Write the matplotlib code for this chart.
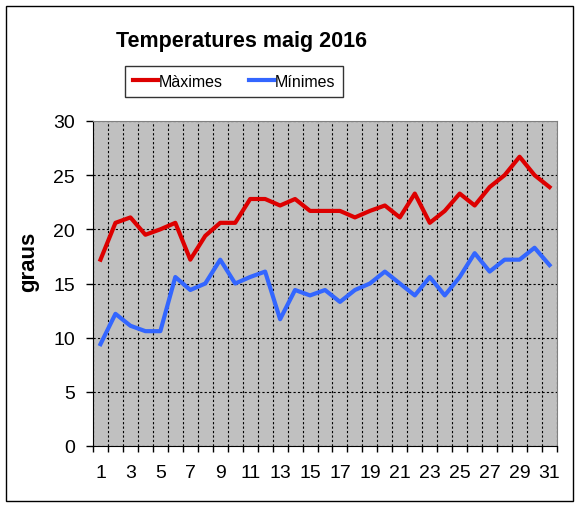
import matplotlib.pyplot as plt
import numpy as np
from matplotlib.patches import Rectangle

plt.rcParams['font.family'] = ['Liberation Sans', 'DejaVu Sans']

dies = list(range(1, 32))
maximes = [17.2, 20.6, 21.1, 19.5, 20.0, 20.6, 17.2, 19.4, 20.6, 20.6,
           22.8, 22.8, 22.2, 22.8, 21.7, 21.7, 21.7, 21.1, 21.7, 22.2,
           21.1, 23.3, 20.6, 21.7, 23.3, 22.2, 23.9, 25.0, 26.7, 25.0, 23.9]
minimes = [9.4, 12.2, 11.1, 10.6, 10.6, 15.6, 14.4, 15.0, 17.2, 15.0,
           15.6, 16.1, 11.7, 14.4, 13.9, 14.4, 13.3, 14.4, 15.0, 16.1,
           15.0, 13.9, 15.6, 13.9, 15.6, 17.8, 16.1, 17.2, 17.2, 18.3, 16.7]
etiquetes = [str(d) for d in dies if d % 2 == 1]

fig = plt.figure(figsize=(5.81, 5.10), dpi=100)
fig.patches.append(Rectangle((6 / 581, 8 / 510), 567 / 581, 495 / 510,
                             transform=fig.transFigure, fill=False,
                             edgecolor='black', linewidth=1))

ax = fig.add_axes([93 / 581, 63 / 510, 464 / 581, 325 / 510])
ax.set_facecolor('#C0C0C0')
ax.plot(dies, maximes, color='#DD0000', linewidth=3, label='Màximes')
ax.plot(dies, minimes, color='#3366FF', linewidth=3, label='Mínimes')

ax.set_xlim(0.5, 31.5)
ax.set_ylim(0, 30)
ax.set_yticks(np.arange(0, 31, 5))
ax.set_xticks([d for d in dies if d % 2 == 1])
ax.set_xticklabels(etiquetes)
ax.set_xticks(np.arange(0.5, 32, 1), minor=True)
ax.tick_params(axis='x', which='major', length=0, labelsize=14, pad=13)
ax.tick_params(axis='x', which='minor', length=4.5, direction='out', width=1)
ax.tick_params(axis='y', labelsize=14, length=5, width=1, pad=8)

ax.grid(axis='y', which='major', color='black', linestyle=(0, (2, 2)), linewidth=0.8)
ax.grid(axis='x', which='minor', color='black', linestyle=(0, (2, 2)), linewidth=0.8)
ax.grid(axis='x', which='major', visible=False)
ax.set_axisbelow(True)

for s in ['top', 'right']:
    ax.spines[s].set_color('#808080')
for s in ['left', 'bottom']:
    ax.spines[s].set_color('black')

fig.text(29 / 581, 1 - 262 / 510, 'graus', rotation=90, ha='center', va='center',
         fontsize=16, fontweight='bold')

fig.text(241 / 581, 1 - 41 / 510, 'Temperatures maig 2016', ha='center', va='center',
         fontsize=15.5, fontweight='bold')

leg = fig.legend(loc='center', bbox_to_anchor=(234 / 581, 1 - 82.5 / 510), ncol=2,
                 fontsize=11.5, frameon=True, fancybox=False, edgecolor='black',
                 handlelength=1.6, handletextpad=0.05, columnspacing=1.6,
                 borderpad=0.5, borderaxespad=0)
leg.get_frame().set_linewidth(1)

fig.savefig('out.png', dpi=100)
